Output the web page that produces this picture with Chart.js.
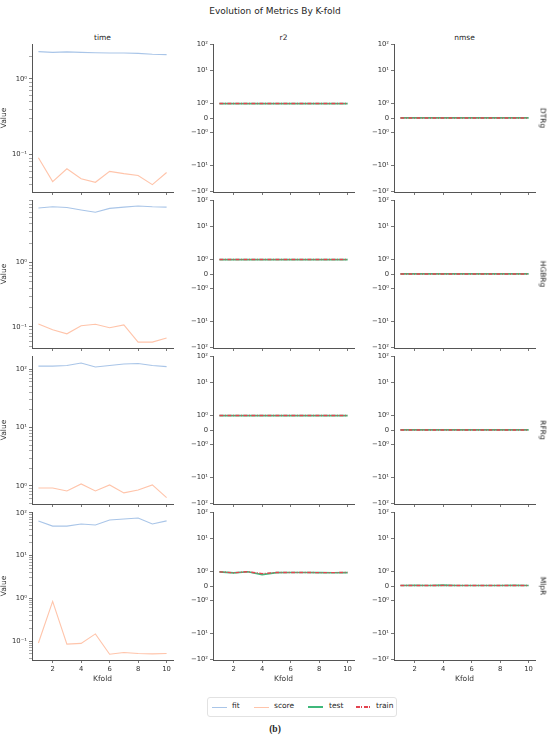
<!DOCTYPE html>
<html>
<head>
<meta charset="utf-8">
<script src="https://cdn.jsdelivr.net/npm/chart.js@4.4.1/dist/chart.umd.min.js"></script>
<style>
  body { margin: 0; background: #fff; }
  #fig { position: relative; width: 550px; height: 738px; font-family: "DejaVu Sans", sans-serif; color: #262626; }
  #fig canvas { position: absolute; }
  .txt { position: absolute; white-space: nowrap; }
  .rowlab { position: absolute; font-size: 7.5px; transform: translate(-50%, -50%) rotate(90deg); }
  #legend { position: absolute; left: 207px; top: 697px; width: 188px; height: 18px; border: 1px solid #e2e2e2; border-radius: 3px; font-size: 7.5px; }
  #legend span.ln { position: absolute; width: 15px; }
  #legend span.tx { position: absolute; top: 3px; }
</style>
</head>
<body>
<div id="fig">
  <div class="txt" style="left:0;width:550px;text-align:center;top:6px;font-size:9px;">Evolution of Metrics By K-fold</div>
  <div class="txt" style="left:32px;width:141px;text-align:center;top:33px;font-size:7.5px;">time</div>
  <div class="txt" style="left:213px;width:141px;text-align:center;top:33px;font-size:7.5px;">r2</div>
  <div class="txt" style="left:394px;width:141px;text-align:center;top:33px;font-size:7.5px;">nmse</div>
  <div id="legend">
    <span class="ln" style="left:4px;top:8.5px;height:1.2px;background:#a9c5e8;"></span><span class="tx" style="left:24px;">fit</span>
    <span class="ln" style="left:46px;top:8.5px;height:1.2px;background:#ffc4aa;"></span><span class="tx" style="left:66px;">score</span>
    <span class="ln" style="left:100px;top:8px;height:2px;background:#3fb87b;"></span><span class="tx" style="left:121px;">test</span>
    <span class="ln" style="left:148px;top:8px;height:1.6px;background:repeating-linear-gradient(90deg,#e3434f 0 4px,transparent 4px 5.5px,#e3434f 5.5px 6.5px,transparent 6.5px 8px);"></span><span class="tx" style="left:168px;">train</span>
  </div>
  <div class="txt" style="left:0;width:550px;text-align:center;top:724px;font-size:9.5px;font-weight:bold;font-family:'Liberation Serif',serif;">(b)</div>
</div>
<script>
// x axis
const kfold = [1, 2, 3, 4, 5, 6, 7, 8, 9, 10];
const kfoldTicks = [2, 4, 6, 8, 10];
const modelNames = ['DTRg', 'HGBRg', 'RFRg', 'MlpR'];

// time (log axis)
const dtrgFit = [2.30, 2.25, 2.28, 2.25, 2.22, 2.20, 2.20, 2.18, 2.12, 2.10];
const dtrgScore = [0.091, 0.044, 0.065, 0.048, 0.043, 0.060, 0.056, 0.053, 0.040, 0.058];
const hgbrgFit = [7.0, 7.3, 7.1, 6.5, 6.0, 6.9, 7.2, 7.5, 7.3, 7.2];
const hgbrgScore = [0.111, 0.090, 0.078, 0.104, 0.110, 0.097, 0.107, 0.058, 0.058, 0.067];
const rfrgFit = [112, 112, 115, 127, 108, 115, 122, 124, 115, 110];
const rfrgScore = [0.92, 0.92, 0.82, 1.08, 0.82, 1.04, 0.76, 0.85, 1.04, 0.63];
const mlprFit = [65, 49, 49, 55, 52, 68, 72, 76, 55, 65];
const mlprScore = [0.090, 0.85, 0.085, 0.088, 0.147, 0.049, 0.054, 0.051, 0.050, 0.051];

// r2 (symlog axis)
const dtrgR2Train = [1.0, 1.0, 1.0, 1.0, 1.0, 1.0, 1.0, 1.0, 1.0, 1.0];
const dtrgR2Test = [0.99, 0.99, 0.99, 0.99, 0.99, 0.99, 0.99, 0.99, 0.99, 0.99];
const hgbrgR2Train = [1.0, 1.0, 1.0, 1.0, 1.0, 1.0, 1.0, 1.0, 1.0, 1.0];
const hgbrgR2Test = [0.99, 0.99, 0.99, 0.99, 0.99, 0.99, 0.99, 0.99, 0.99, 0.99];
const rfrgR2Train = [1.0, 1.0, 1.0, 1.0, 1.0, 1.0, 1.0, 1.0, 1.0, 1.0];
const rfrgR2Test = [0.99, 0.99, 0.99, 0.99, 0.99, 0.99, 0.99, 0.99, 0.99, 0.99];
const mlprR2Train = [0.97, 0.91, 0.98, 0.85, 0.93, 0.93, 0.93, 0.92, 0.92, 0.93];
const mlprR2Test = [0.97, 0.90, 0.98, 0.78, 0.92, 0.93, 0.93, 0.92, 0.91, 0.92];

// nmse (symlog axis)
const dtrgNmseTrain = [0, 0, 0, 0, 0, 0, 0, 0, 0, 0];
const dtrgNmseTest = [0.01, 0.01, 0.01, 0.01, 0.01, 0.01, 0.01, 0.01, 0.01, 0.01];
const hgbrgNmseTrain = [0.002, 0.002, 0.002, 0.002, 0.002, 0.002, 0.002, 0.002, 0.002, 0.002];
const hgbrgNmseTest = [0.01, 0.01, 0.01, 0.01, 0.01, 0.01, 0.01, 0.01, 0.01, 0.01];
const rfrgNmseTrain = [0.001, 0.001, 0.001, 0.001, 0.001, 0.001, 0.001, 0.001, 0.001, 0.001];
const rfrgNmseTest = [0.01, 0.01, 0.01, 0.01, 0.01, 0.01, 0.01, 0.01, 0.01, 0.01];
const mlprNmseTrain = [0.03, 0.03, 0.03, 0.04, 0.03, 0.03, 0.03, 0.03, 0.03, 0.03];
const mlprNmseTest = [0.03, 0.04, 0.03, 0.06, 0.03, 0.03, 0.03, 0.03, 0.04, 0.03];

// tick labels
const symlogTickValues = [-100, -10, -1, 0, 1, 10, 100];
const symlogTickLabels = ['\u221210\u00b2', '\u221210\u00b9', '\u221210\u2070', '0', '10\u2070', '10\u00b9', '10\u00b2'];
const logTickLabels = { '-2': '10\u207b\u00b2', '-1': '10\u207b\u00b9', '0': '10\u2070', '1': '10\u00b9', '2': '10\u00b2', '3': '10\u00b3' };
const timeLimits = [[0.032, 2.9], [0.047, 9.3], [0.49, 167], [0.036, 105]];

const timeFit = [dtrgFit, hgbrgFit, rfrgFit, mlprFit];
const timeScore = [dtrgScore, hgbrgScore, rfrgScore, mlprScore];
const r2Train = [dtrgR2Train, hgbrgR2Train, rfrgR2Train, mlprR2Train];
const r2Test = [dtrgR2Test, hgbrgR2Test, rfrgR2Test, mlprR2Test];
const nmseTrain = [dtrgNmseTrain, hgbrgNmseTrain, rfrgNmseTrain, mlprNmseTrain];
const nmseTest = [dtrgNmseTest, hgbrgNmseTest, rfrgNmseTest, mlprNmseTest];

const colFit = '#a9c5e8';
const colScore = '#ffc4aa';
const colTest = '#3fb87b';
const colTrain = '#e3434f';

// symlog like matplotlib (linthresh 2, linscale 1)
const LT = 2;
const LS = 1 / (1 - 1 / 10);
function symlog(v) {
    const a = Math.abs(v);
    const t = a <= LT ? a / LT * LS : LS + Math.log10(a / LT);
    return v < 0 ? -t : t;
}
const symMax = symlog(100) * 1.006;

Chart.defaults.font.family = '"DejaVu Sans", sans-serif';
Chart.defaults.font.size = 6.8;
Chart.defaults.color = '#333';

const colLeft = [32, 213, 394];
const rowTop = [44, 200, 356, 512];
const plotW = 141;
const plotH = 148;
const padT = 8;
const padR = 8;

function pts(vals, tf) {
    return kfold.map((k, i) => ({ x: k, y: tf ? tf(vals[i]) : vals[i] }));
}

// lower order is drawn on top
function line(label, vals, color, width, dash, order, tf) {
    return {
        label: label,
        data: pts(vals, tf),
        borderColor: color,
        borderWidth: width,
        borderDash: dash,
        order: order,
        pointRadius: 0,
        tension: 0,
        fill: false
    };
}

function makePanel(row, col) {
    const bottomRow = row === 3;
    const yw = col === 0 ? 32 : 30;
    const xh = bottomRow ? 26 : 8;
    const canvas = document.createElement('canvas');
    const w = yw + plotW + padR;
    const h = padT + plotH + xh;
    canvas.width = w;
    canvas.height = h;
    canvas.style.left = (colLeft[col] - yw) + 'px';
    canvas.style.top = (rowTop[row] - padT) + 'px';
    canvas.style.width = w + 'px';
    canvas.style.height = h + 'px';
    document.getElementById('fig').appendChild(canvas);

    let datasets;
    let yScale;
    if (col === 0) {
        datasets = [
            line('fit', timeFit[row], colFit, 1.1, [], 1),
            line('score', timeScore[row], colScore, 1.1, [], 0)
        ];
        yScale = {
            type: 'logarithmic',
            min: timeLimits[row][0],
            max: timeLimits[row][1],
            afterBuildTicks: function (s) {
                const t = [];
                const d0 = Math.floor(Math.log10(s.min));
                const d1 = Math.ceil(Math.log10(s.max));
                for (let d = d0; d <= d1; d++) {
                    for (let m = 1; m < 10; m++) {
                        const v = m * Math.pow(10, d);
                        if (v >= s.min && v <= s.max) t.push({ value: v, major: m === 1 });
                    }
                }
                s.ticks = t;
            },
            ticks: {
                autoSkip: false,
                padding: 2,
                callback: function (v) {
                    const l = Math.log10(v);
                    return Math.abs(l - Math.round(l)) < 1e-6 ? logTickLabels[String(Math.round(l))] : '';
                }
            },
            title: { display: true, text: 'Value', font: { size: 7.5 }, padding: { top: 0, bottom: 1 } }
        };
    } else {
        const tr = col === 1 ? r2Train[row] : nmseTrain[row];
        const te = col === 1 ? r2Test[row] : nmseTest[row];
        datasets = [
            line('test', te, colTest, 1.6, [], 1, symlog),
            line('train', tr, colTrain, 1.4, [4, 1.5, 1, 1.5], 0, symlog)
        ];
        yScale = {
            type: 'linear',
            min: -symMax,
            max: symMax,
            afterBuildTicks: function (s) {
                s.ticks = symlogTickValues.map(v => ({ value: symlog(v) }));
            },
            ticks: {
                autoSkip: false,
                padding: 2,
                callback: function (v, i) { return symlogTickLabels[i]; }
            }
        };
    }
    yScale.position = 'left';
    yScale.border = { display: true, color: '#555', width: 1 };
    yScale.grid = {
        drawOnChartArea: false,
        drawTicks: true,
        tickLength: 3,
        tickColor: '#555',
        tickWidth: function (ctx) {
            if (col !== 0 || !ctx.tick) return 0.8;
            const l = Math.log10(ctx.tick.value);
            return Math.abs(l - Math.round(l)) < 1e-6 ? 0.8 : 0.5;
        }
    };
    yScale.afterFit = function (s) { s.width = yw; };

    const xScale = {
        type: 'linear',
        position: 'bottom',
        min: 0.55,
        max: 10.45,
        afterBuildTicks: function (s) {
            s.ticks = kfoldTicks.map(v => ({ value: v }));
        },
        ticks: {
            autoSkip: false,
            maxRotation: 0,
            padding: 2,
            callback: function (v) { return bottomRow ? String(v) : ''; }
        },
        border: { display: true, color: '#555', width: 1 },
        grid: { drawOnChartArea: false, drawTicks: true, tickLength: 3, tickColor: '#555', tickWidth: 0.8 },
        title: { display: bottomRow, text: 'Kfold', font: { size: 7.5 }, padding: { top: 1, bottom: 2 } },
        afterFit: function (s) { s.height = xh; }
    };

    new Chart(canvas.getContext('2d'), {
        type: 'line',
        data: { datasets: datasets },
        options: {
            responsive: false,
            animation: false,
            devicePixelRatio: 1,
            layout: { padding: { top: padT, right: padR, left: 0, bottom: 0 } },
            plugins: { legend: { display: false }, tooltip: { enabled: false } },
            scales: { x: xScale, y: yScale }
        }
    });
}

for (let r = 0; r < 4; r++) {
    for (let c = 0; c < 3; c++) {
        makePanel(r, c);
    }
    const lab = document.createElement('div');
    lab.className = 'rowlab';
    lab.textContent = modelNames[r];
    lab.style.left = '543px';
    lab.style.top = (rowTop[r] + plotH / 2) + 'px';
    document.getElementById('fig').appendChild(lab);
}
</script>
</body>
</html>
